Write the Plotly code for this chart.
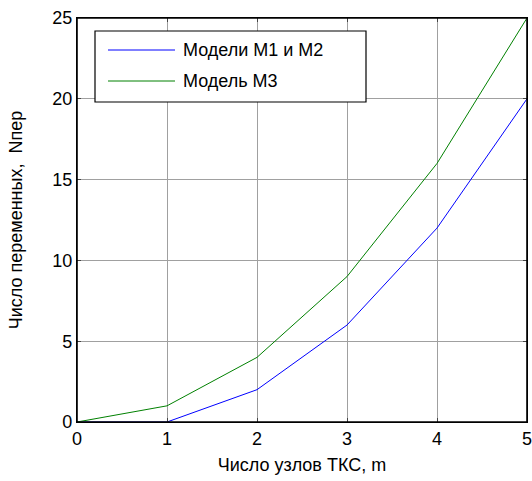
import plotly.graph_objects as go

m_nodes = [0, 1, 2, 3, 4, 5]
models_m1_m2 = [0, 0, 2, 6, 12, 20]
model_m3 = [0, 1, 4, 9, 16, 25]
series_names = ["Модели М1 и М2", "Модель М3"]
series_colors = ["#0000ff", "#008000"]
x_ticks = [0, 1, 2, 3, 4, 5]
y_ticks = [0, 5, 10, 15, 20, 25]

FONT = "Liberation Sans, Arial, sans-serif"

fig = go.Figure()
for name, ys, col in zip(series_names, [models_m1_m2, model_m3], series_colors):
    fig.add_trace(go.Scatter(x=m_nodes, y=ys, mode="lines", name=name,
                             line=dict(color=col, width=1), showlegend=False,
                             cliponaxis=False))

W, H = 532, 481
L, R, T, B = 77, 5, 18, 59
pw, ph = W - L - R, H - T - B

def px(x):
    return (x - L) / pw

def py(y):
    return 1 - (y - T) / ph

# axes frame + legend box
shapes = [dict(type="rect", xref="paper", yref="paper", x0=0, x1=1, y0=0, y1=1,
               line=dict(color="black", width=1.6), layer="above"),
          dict(type="rect", xref="paper", yref="paper",
               x0=px(95), x1=px(366), y0=py(102), y1=py(31),
               line=dict(color="black", width=1.2), fillcolor="white", layer="above")]
annos = []
for i, (name, col) in enumerate(zip(series_names, series_colors)):
    yy = 50 + i * 31
    shapes.append(dict(type="line", xref="paper", yref="paper",
                       x0=px(108), x1=px(175), y0=py(yy), y1=py(yy),
                       line=dict(color=col, width=1), layer="above"))
    annos.append(dict(xref="paper", yref="paper", x=px(181), y=py(yy),
                      text=name, showarrow=False, xanchor="left", yanchor="middle",
                      font=dict(family=FONT, size=18, color="black")))

fig.update_layout(
    width=W, height=H,
    margin=dict(l=L, r=R, t=T, b=B),
    paper_bgcolor="white", plot_bgcolor="white",
    font=dict(family=FONT, size=18, color="black"),
    shapes=shapes, annotations=annos,
)
fig.update_xaxes(range=[0, 5], tickvals=x_ticks, ticks="inside", ticklen=4,
                 showline=True, linecolor="black", linewidth=1.2, mirror="ticks",
                 showgrid=True, gridcolor="#a0a0a0", gridwidth=1, zeroline=False,
                 tickfont=dict(size=18), ticklabeloverflow="allow", automargin=False,
                 title=dict(text="Число узлов ТКС, m", font=dict(size=18), standoff=10))
fig.update_yaxes(range=[0, 25], tickvals=y_ticks, ticks="inside", ticklen=4,
                 showline=True, linecolor="black", linewidth=1.2, mirror="ticks",
                 showgrid=True, gridcolor="#a0a0a0", gridwidth=1, zeroline=False,
                 tickfont=dict(size=18), ticklabeloverflow="allow", automargin=False,
                 title=dict(text="Число переменных,  Nпер", font=dict(size=18), standoff=24))

fig.write_html("out.html", config={"displayModeBar": False},
               post_script="document.body.style.margin='0';document.body.style.padding='0';")
